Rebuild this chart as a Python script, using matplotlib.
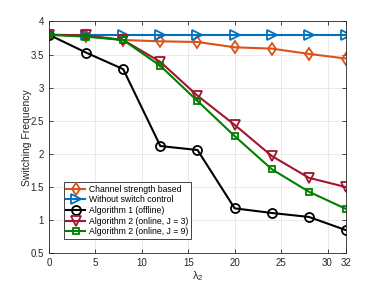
import numpy as np
import matplotlib.pyplot as plt

plt.rcParams['font.family'] = ['Liberation Sans', 'DejaVu Sans']

# 数据
lam2 = [0, 4, 8, 12, 16, 20, 24, 28, 32]
channel_based = [3.80, 3.78, 3.72, 3.70, 3.69, 3.61, 3.59, 3.51, 3.44]
no_control = [3.80, 3.80, 3.80, 3.80, 3.80, 3.80, 3.80, 3.80, 3.80]
alg1_offline = [3.80, 3.53, 3.28, 2.12, 2.06, 1.18, 1.11, 1.05, 0.85]
alg2_j3 = [3.80, 3.79, 3.72, 3.39, 2.88, 2.44, 1.97, 1.64, 1.50]
alg2_j9 = [3.80, 3.77, 3.72, 3.33, 2.80, 2.27, 1.77, 1.43, 1.17]

xticks = [0, 5, 10, 15, 20, 25, 30, 32]
yticks = [0.5, 1, 1.5, 2, 2.5, 3, 3.5, 4]

fig = plt.figure(figsize=(3.82, 2.86), dpi=100)
ax = fig.add_axes([0.128, 0.114, 0.778, 0.811])

kw = dict(linewidth=1.5, markersize=6.5, fillstyle='none', markeredgewidth=1.3)
ax.plot(lam2, channel_based, '-d', color='#D95319', label='Channel strength based', **kw)
ax.plot(lam2, no_control, '->', color='#0072BD', label='Without switch control', **kw)
ax.plot(lam2, alg1_offline, '-o', color='k', label='Algorithm 1 (offline)', **kw)
ax.plot(lam2, alg2_j3, '-v', color='#A2142F', label='Algorithm 2 (online, J = 3)', **kw)
ax.plot(lam2, alg2_j9, '-s', color='#008000', label='Algorithm 2 (online, J = 9)', markersize=5,
        linewidth=1.5, fillstyle='none', markeredgewidth=1.3)

ax.set_xlim(0, 32)
ax.set_ylim(0.5, 4)
ax.set_xticks(xticks)
ax.set_xticklabels([str(t) for t in xticks])
ax.set_yticks(yticks)
ax.set_yticklabels(['0.5', '1', '1.5', '2', '2.5', '3', '3.5', '4'])
ax.tick_params(direction='in', top=True, right=True, labelsize=7, colors='#262626',
               length=3, width=0.6)
ax.grid(True, color='#e6e6e6', linewidth=0.6)
ax.set_axisbelow(True)
for s in ax.spines.values():
    s.set_color('#262626')
    s.set_linewidth(0.6)

ax.set_xlabel(r'$\mathregular{\lambda_2}$', fontsize=8, color='#262626', labelpad=1)
ax.set_ylabel('Switching Frequency', fontsize=7.5, color='#262626', labelpad=-1)

leg = ax.legend(loc='lower left', bbox_to_anchor=(0.035, 0.045), fontsize=6.2,
                handlelength=2.2, borderpad=0.3, labelspacing=0.18, handletextpad=0.5,
                fancybox=False, framealpha=1, edgecolor='#262626')
leg.get_frame().set_linewidth(0.6)

plt.savefig('out.png', dpi=100)
